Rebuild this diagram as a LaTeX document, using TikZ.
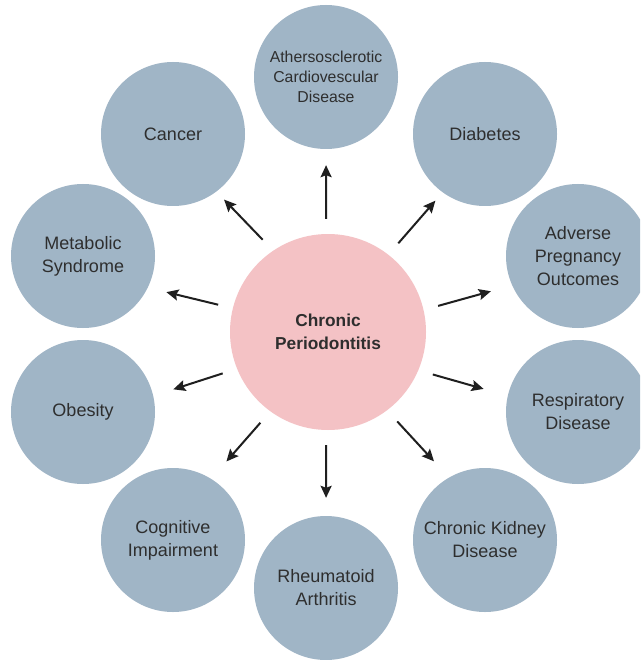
\documentclass[tikz,border=0pt]{standalone}
\usepackage{fontspec}
\setmainfont{Liberation Sans}
\usetikzlibrary{positioning, arrows.meta}

\definecolor{diseaseblue}{HTML}{A0B5C6}
\definecolor{perioPink}{HTML}{F4C2C5}
\definecolor{labelgray}{HTML}{2E2E2E}

\tikzset{
    disease/.style={circle, fill=diseaseblue, minimum size=144pt, inner sep=0pt,
        align=center, text=labelgray, font=\fontsize{18}{23}\selectfont},
    perio/.style={circle, fill=perioPink, minimum size=196pt, inner sep=0pt,
        align=center, text=labelgray, font=\fontsize{17.3}{23}\selectfont\bfseries},
    link/.style={draw=black!88, line width=2pt,
        -{Stealth[length=12pt, width=11pt, inset=2pt]}, shorten <=15pt},
}

\begin{document}
\begin{tikzpicture}[x=1pt, y=-1pt]
    \clip (0,0) rectangle (640,660);
    \fill[white] (0,0) rectangle (640,660);

    % Centre circle
    \node[perio] (perio) at (328,332) {Chronic\\Periodontitis};

    % Surrounding conditions
    \node[disease, font=\fontsize{15.8}{20}\selectfont] (ascvd) at (326,77) {Athersosclerotic\\Cardiovescular\\Disease};
    \node[disease] (diabetes) at (485,134) {Diabetes};
    \node[disease] (pregnancy) at (578,256) {Adverse\\Pregnancy\\Outcomes};
    \node[disease] (respiratory) at (578,412) {Respiratory\\Disease};
    \node[disease] (kidney) at (485,540) {Chronic Kidney\\Disease};
    \node[disease] (arthritis) at (326,588) {Rheumatoid\\Arthritis};
    \node[disease] (cognitive) at (173,540) {Cognitive\\Impairment};
    \node[disease] (obesity) at (83,412) {Obesity};
    \node[disease] (metabolic) at (83,256) {Metabolic\\Syndrome};
    \node[disease] (cancer) at (173,134) {Cancer};

    % Arrows out of the centre
    \draw[link, shorten >=16pt] (perio.91) -- (ascvd.270);
    \draw[link, shorten >=11pt] (perio.52.7) -- (diabetes.234.8);
    \draw[link, shorten >=22pt] (perio.13.8) -- (pregnancy.204.4);
    \draw[link, shorten >=25pt] (perio.337.3) -- (respiratory.167.5);
    \draw[link, shorten >=22pt] (perio.307.6) -- (kidney.120.3);
    \draw[link, shorten >=18pt] (perio.269) -- (arthritis.90);
    \draw[link, shorten >=23pt] (perio.234.1) -- (cognitive.58.1);
    \draw[link, shorten >=21pt] (perio.202.7) -- (obesity.13);
    \draw[link, shorten >=19pt] (perio.166.3) -- (metabolic.334);
    \draw[link, shorten >=11pt] (perio.124.8) -- (cancer.307);
\end{tikzpicture}
\end{document}
